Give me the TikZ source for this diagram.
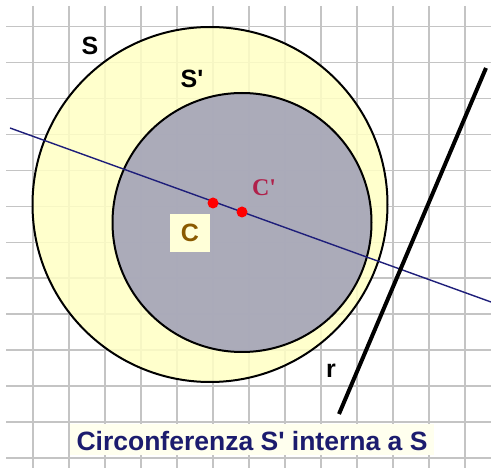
\documentclass[tikz,border=0pt]{standalone}
\usepackage{fontspec}
\setmainfont{Liberation Sans}[Ligatures=TeXOff]
\newfontfamily\serifbold{Liberation Serif}[Ligatures=TeXOff]
\definecolor{gridgray}{HTML}{C4C4C4}
\definecolor{paleyellow}{HTML}{FFFFC4}
\definecolor{innergray}{HTML}{A2A2B8}
\definecolor{diamblue}{HTML}{1E1E7A}
\definecolor{titleblue}{HTML}{1C1C6E}
\definecolor{titlebg}{HTML}{FFFFEE}
\definecolor{cprime}{HTML}{B0204A}
\definecolor{cbrown}{HTML}{8A5A00}
\definecolor{cbox}{HTML}{FFFFD8}
\tikzset{
  gridline/.style={draw=gridgray, line width=1.3pt},
  circleline/.style={draw=black, line width=2pt},
  diameter/.style={draw=diamblue, line width=1.4pt},
  rline/.style={draw=black, line width=4pt},
  centerdot/.style={circle, fill=red, inner sep=0pt, minimum size=11pt},
  biglabel/.style={font=\bfseries\fontsize{25}{28}\selectfont, text=black, inner sep=0pt},
}
\begin{document}
\begin{tikzpicture}[x=1pt,y=-1pt]
\useasboundingbox (0,0) rectangle (491,468);
\fill[white] (0,0) rectangle (491,468);
% grid
\foreach \k in {0,...,12} {
  \draw[gridline] ({33+36*\k},6) -- ({33+36*\k},468);
  \draw[gridline] (6,{26.5+35.95*\k}) -- (491,{26.5+35.95*\k});
}
% circles
\fill[paleyellow, opacity=0.85] (210,204.5) circle[radius=177.5];
\draw[circleline] (210,204.5) circle[radius=177.5];
\fill[innergray, opacity=0.9] (242,222.5) circle[radius=129.5];
\draw[circleline] (242,222.5) circle[radius=129.5];
% diameter line
\coordinate (dA) at (10,128);
\coordinate (dB) at (491,302);
\draw[diameter] (dA) -- (dB);
% line r
\coordinate (rA) at (339,414);
\coordinate (rB) at (486,68);
\draw[rline] (rA) -- (rB);
% centers
\node[centerdot] (C) at (213,203) {};
\node[centerdot] (Cp) at (242,212) {};
% labels
\node[biglabel] (lS) at (90,46) {S};
\node[biglabel] (lSp) at (192,79) {S'};
\node[biglabel, anchor=base] (lr) at (331,378) {r};
\node[font=\serifbold\bfseries\fontsize{24}{28}\selectfont, text=cprime, inner sep=0pt] (lCp) at (264,188) {C'};
\node[fill=cbox, minimum width=40pt, minimum height=38pt, inner sep=0pt,
      font=\bfseries\fontsize{25}{28}\selectfont, text=cbrown] (lC) at (190,233) {C};
% title
\fill[titlebg] (70,424) rectangle (434,455);
\node[font=\bfseries\fontsize{26.5}{30}\selectfont, text=titleblue, inner sep=0pt, anchor=base] (title) at (252,450) {Circonferenza S' interna a S};
\end{tikzpicture}
\end{document}
